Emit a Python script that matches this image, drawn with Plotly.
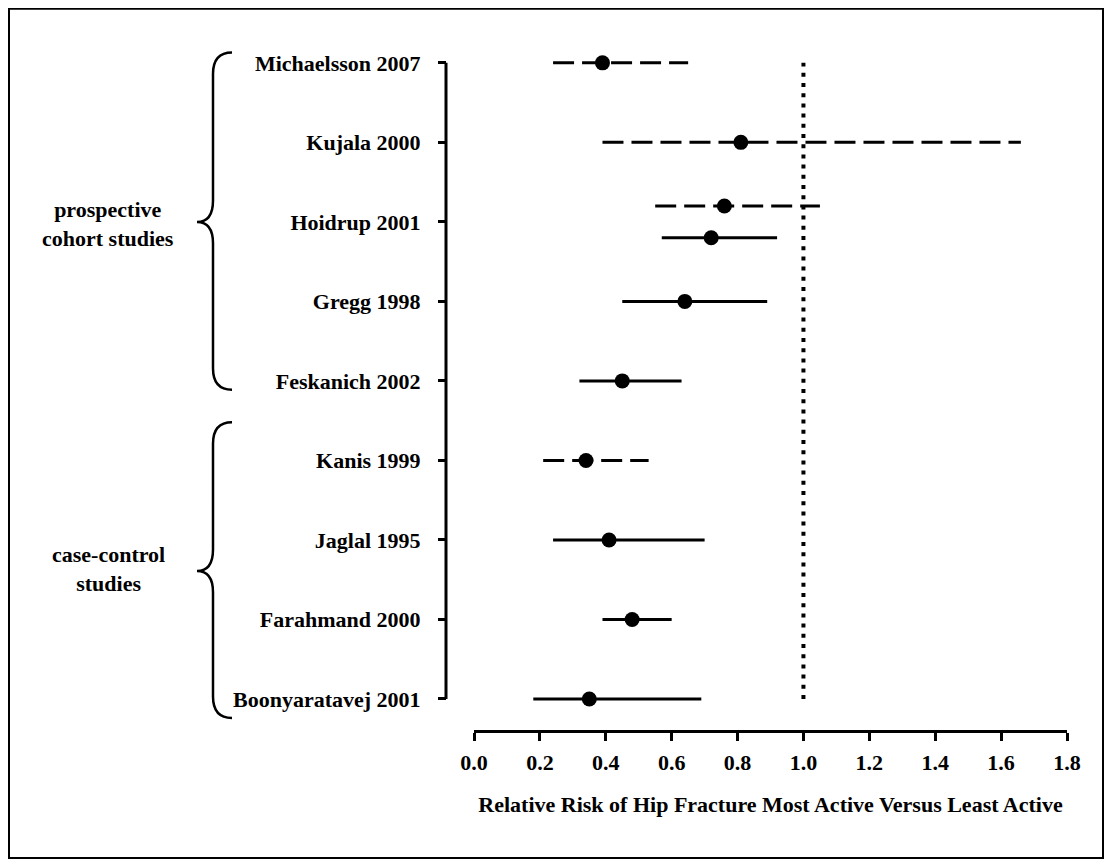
import plotly.graph_objects as go

# ---- data ----
studies = ["Michaelsson 2007", "Kujala 2000", "Hoidrup 2001", "Gregg 1998",
           "Feskanich 2002", "Kanis 1999", "Jaglal 1995", "Farahmand 2000",
           "Boonyaratavej 2001"]
study_rows = [8, 7, 6, 5, 4, 3, 2, 1, 0]

# individual estimates (study index, relative risk, lower CI, upper CI, style)
est_study = [0, 1, 2, 2, 3, 4, 5, 6, 7, 8]
est_offset = [0, 0, 0.2, -0.2, 0, 0, 0, 0, 0, 0]
est_rr = [0.39, 0.81, 0.76, 0.72, 0.64, 0.45, 0.34, 0.41, 0.48, 0.35]
est_lo = [0.24, 0.39, 0.55, 0.57, 0.45, 0.32, 0.21, 0.24, 0.39, 0.18]
est_hi = [0.65, 1.66, 1.05, 0.92, 0.89, 0.63, 0.53, 0.70, 0.60, 0.69]
est_dashed = [True, True, True, False, False, False, True, False, False, False]

x_tickvals = [0.0, 0.2, 0.4, 0.6, 0.8, 1.0, 1.2, 1.4, 1.6, 1.8]
reference_rr = 1.0

groups = ["prospective<br>cohort studies", "case-control<br>studies"]
group_top = [8.13, 3.48]
group_tip = [6.0, 1.61]
group_bot = [3.89, -0.24]
group_label_y = [5.97, 1.63]

# ---- layout geometry (figure pixel coords; page = figure + 8px body margin) ----
FONT = "Liberation Serif"
OFF = 8
W, H = 1096, 851
Y_AXIS_X = 446 - OFF          # y axis line
X0_PX, X1_PX = 474 - OFF, 1067 - OFF   # x = 0.0 and x = 1.8
X_AXIS_Y = 731 - OFF          # x axis line
ROW_TOP, ROW_BOT = 63 - OFF, 699 - OFF  # rows 8 and 0
ROW_STEP = (ROW_BOT - ROW_TOP) / 8
YPAD = 0.3

ML = Y_AXIS_X
MR = W - X1_PX
MB = H - X_AXIS_Y
MT = ROW_TOP - ROW_STEP * YPAD
PW = W - ML - MR
PH = H - MT - MB


def px_x(p):  # page px -> paper x
    return (p - OFF - ML) / PW


def fx(p):  # figure px -> paper x
    return (p - ML) / PW


def fy(p):  # figure px -> paper y
    return (H - MB - p) / PH


fig = go.Figure()

for i in range(len(est_rr)):
    y = study_rows[est_study[i]] + est_offset[i]
    fig.add_trace(go.Scatter(
        x=[est_lo[i], est_hi[i]], y=[y, y], mode="lines",
        line=dict(color="black", width=3,
                  dash="21px,8px" if est_dashed[i] else "solid"),
        showlegend=False, hoverinfo="skip"))

fig.add_trace(go.Scatter(
    x=[reference_rr, reference_rr], y=[min(study_rows), max(study_rows)],
    mode="lines", line=dict(color="black", width=4, dash="4px,6.2px"),
    showlegend=False, hoverinfo="skip"))

fig.add_trace(go.Scatter(
    x=est_rr,
    y=[study_rows[s] + o for s, o in zip(est_study, est_offset)],
    mode="markers", marker=dict(color="black", size=15, symbol="circle"),
    cliponaxis=False, showlegend=False))

# y axis line spanning first to last study only
fig.add_shape(type="line", xref="paper", yref="y",
              x0=0, x1=0, y0=min(study_rows), y1=max(study_rows),
              line=dict(color="black", width=3))

# braces + group labels
xe, xv, xt = px_x(232), px_x(213), px_x(197)
a, b = 0.27, 0.27
for g in range(len(groups)):
    T, M, B = group_top[g], group_tip[g], group_bot[g]
    path = (f"M {xe},{T} Q {xv},{T} {xv},{T - a} L {xv},{M + b} "
            f"Q {xv},{M} {xt},{M} Q {xv},{M} {xv},{M - b} "
            f"L {xv},{B + a} Q {xv},{B} {xe},{B}")
    fig.add_shape(type="path", path=path, xref="paper", yref="y",
                  line=dict(color="black", width=2.5))
    fig.add_annotation(text=groups[g], x=px_x(108), y=group_label_y[g],
                       xref="paper", yref="y", showarrow=False,
                       xanchor="center", yanchor="middle", align="center",
                       font=dict(family=FONT, size=22, color="black", weight="bold"))

# outer frame
fig.add_shape(type="rect", xref="paper", yref="paper",
              x0=fx(1), x1=fx(W - 1), y0=fy(H - 1), y1=fy(1),
              line=dict(color="black", width=2))

fig.update_layout(
    width=W, height=H,
    margin=dict(l=ML, r=MR, t=MT, b=MB, pad=0),
    paper_bgcolor="white", plot_bgcolor="white",
    font=dict(family=FONT, color="black"),
    xaxis=dict(
        domain=[fx(X0_PX), 1], range=[0, 1.8], anchor="free", position=0,
        tickvals=x_tickvals, tickformat=".1f",
        ticks="outside", ticklen=8, tickwidth=3, tickcolor="black",
        showline=True, linewidth=3, linecolor="black",
        showgrid=False, zeroline=False, automargin=False,
        ticklabelstandoff=3,
        tickfont=dict(family=FONT, size=22, color="black", weight="bold"),
        title=dict(text="Relative Risk of Hip Fracture Most Active Versus Least Active",
                   font=dict(family=FONT, size=22, color="black", weight="bold"),
                   standoff=22),
    ),
    yaxis=dict(
        domain=[fy(ROW_BOT + ROW_STEP * YPAD), 1], range=[-YPAD, 8 + YPAD],
        anchor="free", position=0,
        tickvals=study_rows, ticktext=studies,
        ticks="outside", ticklen=8, tickwidth=3, tickcolor="black",
        showline=False,
        showgrid=False, zeroline=False, automargin=False,
        ticklabelstandoff=13,
        tickfont=dict(family=FONT, size=22, color="black", weight="bold"),
    ),
)

fig.write_html("out.html")
